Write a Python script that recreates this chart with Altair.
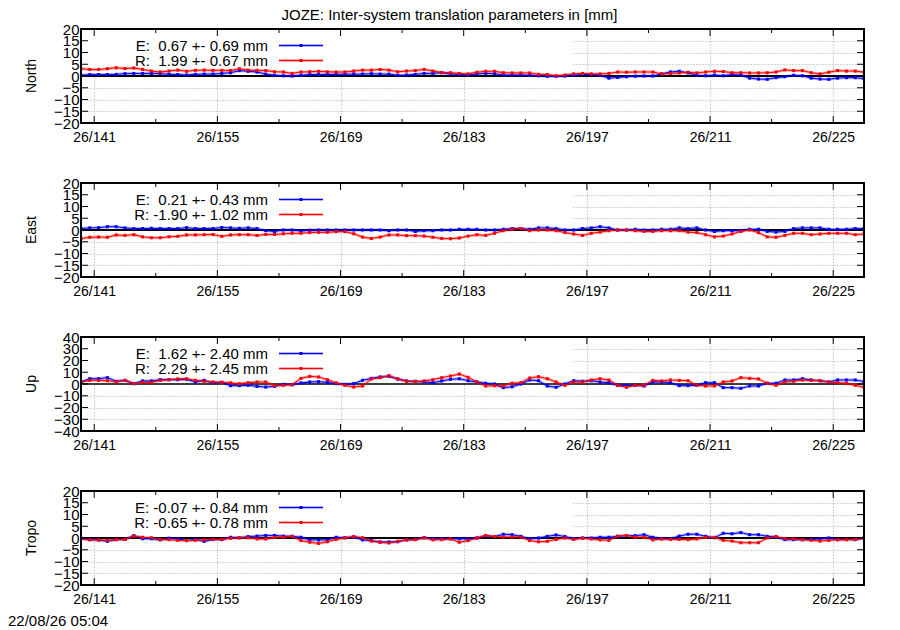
import altair as alt
import pandas as pd

FONT = "Liberation Sans"
W, H = 783, 94
X_MIN, X_MAX = 139.5, 228.5

TITLE = "JOZE: Inter-system translation parameters in [mm]"
STAMP = "22/08/26 05:04"

# one solution per day, plotted at noon (doy + 0.5)
DAYS = [139.5 + i for i in range(90)]
MAJOR_DAYS = [141, 155, 169, 183, 197, 211, 225]
MINOR_DAYS = [148, 162, 176, 190, 204, 218]

PANELS = ["North", "East", "Up", "Tropo"]
E_MEAN = [0.67, 0.21, 1.62, -0.07]
E_STD = [0.69, 0.43, 2.40, 0.84]
R_MEAN = [1.99, -1.90, 2.29, -0.65]
R_STD = [0.67, 1.02, 2.45, 0.78]
Y_LIMIT = [20, 20, 40, 20]
Y_STEP = [5, 5, 10, 5]

NORTH_E = [0.3, 0.6, 0.6, 0.6, 0.7, 1.0, 1.1, 1.1, 1.1, 1.0, 0.7, 0.6, 0.4, 0.7, 0.8,
           0.8, 1.1, 1.4, 2.3, 2.0, 1.7, 0.8, 0.3, 0.1, 0.0, 0.3, 0.6, 0.6, 0.6, 0.7,
           0.7, 0.8, 0.8, 1.0, 0.8, 0.8, 0.3, 0.4, 0.7, 1.1, 1.1, 1.4,
           0.9, 0.6, 0.4, 0.9, 1.1, 1.0, 0.4, 0.4, 0.4, 0.3, 0.1, -0.1, -0.1, 0.0, 0.3,
           0.6, 0.6, 0.3, -0.9, -0.6, -0.3, -0.1, 0.0, 0.0, 0.9, 1.7, 2.0, 1.3, 0.3, 0.1,
           0.4, 0.1, 0.6, 0.4, -0.9, -1.3, -1.4, -0.7, -0.3, 0.3, 0.1, -0.9, -1.3, -1.4,
           -0.9, -0.7, -0.7, -1.1]
NORTH_R = [3.1, 2.8, 2.8, 3.1, 3.5, 3.2, 3.4, 2.8, 2.1, 1.7, 2.1, 2.5, 2.0, 2.4, 2.5,
           2.4, 2.4, 2.3, 3.1, 2.5, 2.4, 2.3, 1.8, 1.7, 1.1, 1.7, 1.8, 2.0, 1.8, 1.7,
           1.7, 2.1, 2.5, 2.5, 2.8, 2.5, 1.8, 2.1, 2.3, 2.8, 2.1, 1.5,
           1.4, 1.1, 0.9, 1.6, 2.0, 2.0, 1.4, 1.3, 1.3, 1.3, 0.7, 0.6, 0.1, 0.4, 0.9,
           1.1, 0.9, 0.9, 1.1, 1.7, 1.6, 1.7, 1.7, 1.7, 0.9, 1.1, 1.3, 1.6, 1.3, 1.7,
           2.0, 1.9, 1.4, 1.4, 1.3, 1.3, 1.4, 1.7, 2.6, 2.3, 2.3, 1.4, 0.9, 1.6, 2.3,
           2.1, 2.1, 1.6]
EAST_E = [0.6, 0.9, 1.0, 1.4, 1.4, 0.9, 0.6, 0.6, 0.7, 0.6, 0.6, 0.6, 1.0, 0.6, 0.6,
          0.6, 1.1, 0.9, 0.7, 0.9, 0.6, -0.3, -0.6, 0.0, 0.0, -0.4, -0.1, 0.0, 0.0, 0.0,
          0.0, 0.0, 0.0, 0.0, 0.0, -0.3, 0.0, 0.0, -0.6, -0.3, -0.3, 0.0,
          0.0, 0.3, 0.3, 0.3, 0.0, 0.0, 0.3, 0.6, 0.6, 0.3, 0.9, 0.9, 0.6, 0.0, 0.0,
          0.6, 0.9, 1.4, 0.9, 0.0, 0.0, 0.3, 0.0, 0.0, 0.3, 0.3, 0.9, 0.6, 0.9, 0.0,
          -0.6, -0.3, -0.3, -0.3, 0.3, 0.3, -0.6, -0.9, -0.6, 0.6, 0.9, 0.9, 0.9, 0.3,
          0.3, 0.3, 0.6, 0.6]
EAST_R = [-3.6, -3.1, -3.0, -3.1, -2.1, -2.3, -2.0, -2.9, -3.3, -3.3, -2.9, -2.7, -2.1,
          -2.1, -2.0, -1.9, -2.7, -2.1, -2.0, -2.0, -2.3, -1.9, -1.9, -1.6, -1.4, -1.4,
          -1.1, -1.0, -1.0, -0.7, -0.7, -1.6, -3.0, -3.6, -3.0, -2.1, -2.1, -2.4, -2.4,
          -2.6, -3.1, -3.6,
          -3.7, -3.4, -2.6, -2.0, -2.3, -1.4, -0.3, 0.3, 0.6, -0.3, 0.0, 0.0, -0.3, -1.1,
          -1.7, -2.3, -1.4, -0.9, -0.3, 0.0, 0.0, -0.3, -0.6, -0.6, -0.3, -0.3, -0.3,
          -0.9, -1.1, -2.0, -2.9, -2.6, -1.7, -0.6, 0.0, -1.1, -2.9, -3.1, -2.3, -1.4,
          -1.4, -2.0, -1.7, -1.4, -1.4, -1.4, -2.0, -1.7]
UP_E = [1.7, 4.5, 4.5, 5.4, 2.3, 3.1, 0.3, 2.6, 2.6, 3.7, 3.7, 3.7, 4.0, 1.7, 3.1, 0.9,
        1.4, -1.4, -1.4, -1.1, -2.0, -2.6, -2.0, -0.3, -0.6, 0.9, 1.7, 2.0, 1.4, 0.3,
        -0.3, 0.3, 3.1, 4.8, 6.0, 6.5, 4.3, 2.6, 2.3, 1.7, 1.1, 2.6,
        4.0, 4.5, 2.8, 1.7, 0.6, 0.0, -3.1, -2.3, 0.0, 3.4, 2.8, -1.7, -2.8, 0.0, 2.8,
        2.3, 2.8, 1.7, 1.1, -1.1, -1.4, -1.1, -1.7, 1.7, 1.7, 1.1, -1.4, -1.4, -1.1,
        1.1, 1.1, -3.1, -3.1, -3.7, -1.7, -1.7, 0.6, 0.6, 3.4, 3.4, 4.5, 3.4, 2.8, 1.7,
        3.4, 3.4, 3.4, 2.0]
UP_R = [1.7, 3.1, 3.1, 2.8, 2.0, 3.1, 0.3, 1.4, 1.4, 3.1, 3.7, 4.3, 4.5, 3.1, 2.3, 1.7,
        1.4, 0.9, 0.3, 1.1, 1.7, 1.7, -1.4, -1.1, -0.6, 4.8, 6.5, 6.0, 3.7, 0.9, -1.1,
        -2.6, -1.7, 4.3, 5.4, 7.1, 4.3, 2.3, 2.0, 2.6, 3.7, 5.4,
        6.8, 8.5, 5.7, 1.7, -1.7, -1.4, -1.7, 0.6, 1.1, 5.1, 6.2, 4.5, 1.7, -1.1, 1.7,
        1.7, 3.4, 4.5, 3.4, -1.1, -2.8, -1.1, -1.1, 3.1, 2.6, 3.4, 3.1, 2.8, -1.1, -1.7,
        -1.7, 1.7, 2.6, 5.4, 4.8, 4.3, 0.6, -1.1, 1.7, 2.3, 3.4, 3.1, 2.8, 1.7, 1.1, 0.6,
        -1.1, -2.8]
TROPO_E = [-0.1, -0.6, -0.8, -1.4, -0.6, -0.6, 1.0, -0.3, -0.3, -0.8, -0.1, -0.4, -1.1,
           -0.6, -1.4, -0.6, -0.7, 0.3, 0.1, 0.6, 0.8, 1.1, 1.1, 0.8, 0.7, 0.3, -0.8, -0.8,
           -0.8, 0.3, 0.1, 0.4, -0.8, -1.1, -1.7, -1.7, -1.6, -0.8, -0.6, 0.1, -0.3, -0.3,
           -0.3, -0.3, -0.4, 0.0, 1.0, 0.6, 1.6, 1.4, 0.7, -0.3, 0.0, 0.7, 1.3, 0.6, -0.3,
           0.0, 0.0, 0.3, 0.3, 0.7, 1.0, 1.0, 1.4, 0.3, -0.3, -0.3, 0.8, 1.6, 1.6, 0.7,
           0.1, 2.0, 1.8, 2.3, 1.4, 1.4, 0.7, 0.4, -0.7, -0.7, -0.7, -0.6, -0.4, 0.0, -0.7,
           -0.6, -0.7, 0.0]
TROPO_R = [-0.3, -0.8, -0.8, -1.0, -0.7, -0.6, 0.8, 0.3, 0.1, -0.6, -0.7, -1.0, -1.1,
           -1.0, -0.8, -0.6, -0.6, -0.1, 0.1, 0.1, -0.4, -0.4, 0.3, 0.4, 0.7, -1.1, -1.8,
           -2.3, -1.6, -0.6, 0.1, 0.6, 0.1, -1.3, -1.8, -2.1, -1.4, -0.8, -0.7, 0.1, -0.8,
           -0.7,
           -0.4, -1.8, -1.1, 0.0, 1.1, 0.6, 0.4, 0.4, 0.4, -1.1, -1.6, -1.4, -0.6, 0.0,
           -0.6, -0.1, -0.4, -0.8, -1.0, 0.8, 1.1, 0.4, 0.3, -0.8, -0.4, -0.6, -0.6, -0.7,
           -0.4, 0.3, 0.3, -1.0, -1.3, -2.0, -2.0, -2.0, 0.0, 0.6, -0.3, -0.4, -0.7, -1.0,
           -1.3, -1.0, -0.7, -0.7, -0.6, -0.1]

SERIES = [(NORTH_E, NORTH_R), (EAST_E, EAST_R), (UP_E, UP_R), (TROPO_E, TROPO_R)]
SYSTEMS = ["E", "R"]
COLORS = ["#0000ff", "#ff0000"]
GRID = "#a8a8a8"
ONE = pd.DataFrame({"k": [0]})


def _label(sys_name, mean, std):
    # gnuplot style "%s: %5.2f +- %.2f mm"; keep the padding blank visible in SVG
    return f"{sys_name}: {mean:5.2f} +- {std:.2f} mm".replace(" ", "\u00a0")


def build_panel(i):
    lim, step = Y_LIMIT[i], Y_STEP[i]
    y_ticks = list(range(-lim, lim + 1, step))
    e_vals, r_vals = SERIES[i]

    x_enc = alt.X(
        "day:Q",
        scale=alt.Scale(domain=[X_MIN, X_MAX], nice=False, zero=False),
        axis=alt.Axis(values=MAJOR_DAYS, labelExpr="'26/' + datum.value", title=None,
                      ticks=False, domain=False, grid=True, gridColor=GRID, gridDash=[1, 2],
                      labelPadding=7, labelFontSize=14, labelFlush=False, labelOverlap=False),
    )
    y_enc = alt.Y(
        "mm:Q",
        scale=alt.Scale(domain=[-lim, lim], nice=False, zero=False),
        axis=alt.Axis(values=y_ticks, title=None, ticks=False, domain=False, grid=True,
                      gridColor=GRID, gridDash=[1, 2], labelPadding=2, labelFontSize=15,
                      labelFlush=False, labelOverlap=False),
    )
    color = alt.Color("sys:N", scale=alt.Scale(domain=SYSTEMS, range=COLORS), legend=None)

    df = pd.DataFrame({
        "day": DAYS + DAYS,
        "mm": e_vals + r_vals,
        "sys": ["E"] * len(DAYS) + ["R"] * len(DAYS),
    })

    # opaque key box hides the grid in the upper left
    key_box = alt.Chart(ONE).mark_rect(color="white").encode(
        x=alt.value(0), x2=alt.value(492), y=alt.value(0), y2=alt.value(H / 2 + 1)
    )
    zero = alt.Chart(pd.DataFrame({"mm": [0]})).mark_rule(
        color="black", strokeWidth=1.5 if lim == 40 else 2
    ).encode(y=y_enc)

    base = alt.Chart(df).encode(x=x_enc, y=y_enc, color=color)
    halo = base.mark_line(strokeWidth=3, opacity=0.3, clip=True)
    line = base.mark_line(strokeWidth=1, clip=True)
    pts = base.mark_point(filled=True, shape="square", size=9, opacity=1, clip=True)

    layers = [key_box, zero, halo, line, pts]

    stats = [(E_MEAN[i], E_STD[i]), (R_MEAN[i], R_STD[i])]
    for row, (sys_name, col, (m, s)) in enumerate(zip(SYSTEMS, COLORS, stats)):
        ry = 16.5 + 15 * row
        layers.append(
            alt.Chart(pd.DataFrame({"label": [_label(sys_name, m, s)]}))
            .mark_text(align="right", baseline="middle", fontSize=15, font=FONT, color="black")
            .encode(x=alt.value(187), y=alt.value(ry), text="label:N")
        )
        layers.append(alt.Chart(ONE).mark_rule(color=col, strokeWidth=3, opacity=0.3).encode(
            x=alt.value(198), x2=alt.value(242), y=alt.value(ry)))
        layers.append(alt.Chart(ONE).mark_rule(color=col, strokeWidth=1).encode(
            x=alt.value(198), x2=alt.value(242), y=alt.value(ry)))
        layers.append(alt.Chart(ONE).mark_point(filled=True, shape="square", size=9, color=col, opacity=1)
                      .encode(x=alt.value(220), y=alt.value(ry)))

    # inward ticks on all four sides, as gnuplot draws them
    major = alt.Chart(pd.DataFrame({"day": MAJOR_DAYS})).encode(x=x_enc)
    minor = alt.Chart(pd.DataFrame({"day": MINOR_DAYS})).encode(x=x_enc)
    yt = alt.Chart(pd.DataFrame({"mm": y_ticks})).encode(y=y_enc)
    tick = dict(color="black", strokeWidth=1)
    layers += [
        major.mark_rule(**tick).encode(y=alt.value(H), y2=alt.value(H - 7)),
        major.mark_rule(**tick).encode(y=alt.value(0), y2=alt.value(7)),
        minor.mark_rule(**tick).encode(y=alt.value(H), y2=alt.value(H - 4)),
        minor.mark_rule(**tick).encode(y=alt.value(0), y2=alt.value(4)),
        yt.mark_rule(**tick).encode(x=alt.value(0), x2=alt.value(7)),
        yt.mark_rule(**tick).encode(x=alt.value(W - 7), x2=alt.value(W)),
    ]

    layers.append(alt.Chart(ONE).mark_rect(filled=False, stroke="black", strokeWidth=2).encode(
        x=alt.value(0), x2=alt.value(W), y=alt.value(0), y2=alt.value(H)))

    layers.append(
        alt.Chart(pd.DataFrame({"t": [PANELS[i]]}))
        .mark_text(angle=270, align="center", baseline="middle", fontSize=14, font=FONT, color="black")
        .encode(x=alt.value(-49), y=alt.value(H / 2), text="t:N")
    )
    if i == 0:
        layers.append(
            alt.Chart(pd.DataFrame({"t": [TITLE]}))
            .mark_text(align="center", baseline="alphabetic", fontSize=15, font=FONT, color="black")
            .encode(x=alt.value(368.5), y=alt.value(-9), text="t:N")
        )
    if i == len(PANELS) - 1:
        layers.append(
            alt.Chart(pd.DataFrame({"t": [STAMP]}))
            .mark_text(align="left", baseline="bottom", fontSize=15, font=FONT, color="black")
            .encode(x=alt.value(-73), y=alt.value(138), text="t:N")
        )

    return alt.layer(*layers).properties(width=W, height=H)


chart = (
    alt.vconcat(*[build_panel(i) for i in range(len(PANELS))], spacing=60, bounds="flush")
    .properties(padding=0)
    .configure_view(strokeWidth=0)
    .configure_axis(labelFont=FONT, labelColor="black")
)

chart.save("out.html", embed_options={"renderer": "svg", "actions": False})
